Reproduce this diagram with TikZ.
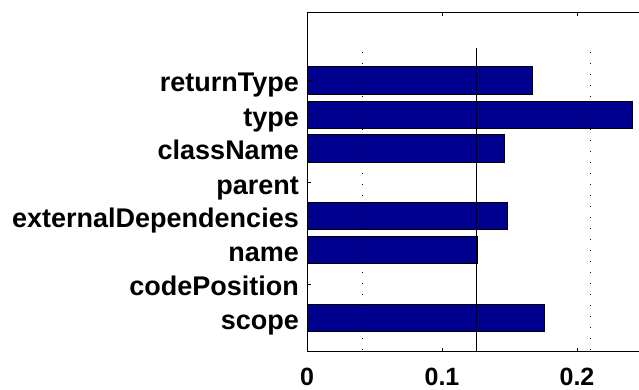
\documentclass[tikz,border=0pt]{standalone}
\usepackage{fontspec}
\setmainfont{Liberation Sans}
\begin{document}
\begin{tikzpicture}[x=1pt,y=-1pt,
  bar/.style={draw=black,line width=0.9pt,fill=barblue},
  axis/.style={draw=black,line width=1pt},
  dotgrid/.style={draw=black,line width=1pt,dash pattern=on 1pt off 10pt},
  lab/.style={font=\fontsize{27}{27}\selectfont\bfseries,inner sep=0pt,anchor=base east},
  tlab/.style={font=\fontsize{25}{25}\selectfont\bfseries,inner sep=0pt,anchor=base}]
\definecolor{barblue}{RGB}{0,0,143}
\useasboundingbox (0,0) rectangle (639,390);
% bars
\def\hh{13.7}
\foreach \yc/\xr/\nm in {80.5/532/bA,115/632/bB,148.5/504/bC,216/507/bE,250/477/bF,318/544/bH}{
  \filldraw[bar] (307,\yc-\hh) rectangle (\xr,\yc+\hh);
}
% grid lines
\draw[dotgrid] (362,52) -- (362,351);
\draw[dotgrid] (590,52) -- (590,351);
\draw[axis] (476,48) -- (476,351);
% axes
\draw[axis] (639,13) -- (307,13) -- (307,351) -- (639,351);
\foreach \x in {442,577}{
  \draw[axis] (\x,13) -- (\x,16.5);
  \draw[axis] (\x,351) -- (\x,347.5);
}
\foreach \yc in {80.5,115,148.5,182.5,216,250,284,318}{
  \draw[axis] (307,\yc) -- (310.5,\yc);
}
% labels
\node[lab] (l1) at (299,92) {returnType};
\node[lab] (l2) at (299,126.5) {type};
\node[lab] (l3) at (299,160) {className};
\node[lab] (l4) at (299,194) {parent};
\node[lab] (l5) at (299,227.5) {externalDependencies};
\node[lab] (l6) at (299,261.5) {name};
\node[lab] (l7) at (299,295.5) {codePosition};
\node[lab] (l8) at (299,329.5) {scope};
\node[tlab] (t0) at (307,385) {0};
\node[tlab] (t1) at (442,385) {0.1};
\node[tlab] (t2) at (577,385) {0.2};
\end{tikzpicture}
\end{document}
